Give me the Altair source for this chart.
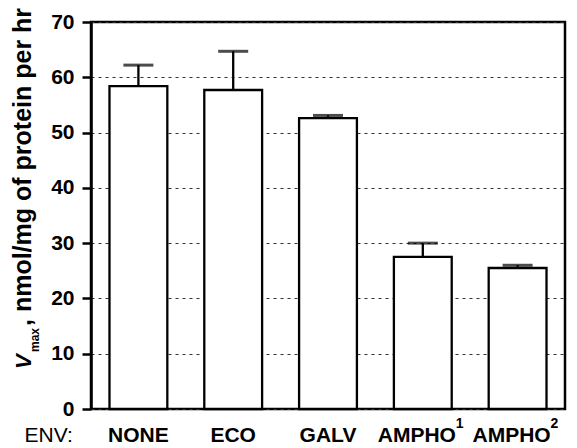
import altair as alt
import pandas as pd

categories = ["NONE", "ECO", "GALV", "AMPHO\u00b9", "AMPHO\u00b2"]
means = [58.4, 57.7, 52.6, 27.5, 25.5]
upper = [62.2, 64.7, 53.1, 30.0, 26.0]
sup_env = ["AMPHO\u00b9", "AMPHO\u00b2"]
sup_text = ["1", "2"]

df = pd.DataFrame({"env": categories, "vmax": means, "err": upper})
sup_df = pd.DataFrame({"env": sup_env, "s": sup_text})

FONT = "Liberation Sans"

x_enc = alt.X(
    "env:N",
    sort=categories,
    scale=alt.Scale(paddingInner=0.39, paddingOuter=0.195),
    axis=alt.Axis(
        title="ENV:",
        titleFont=FONT,
        titleFontSize=21,
        titleFontWeight="normal",
        titleColor="black",
        titleX=-67,
        titleY=32,
        titleAlign="left",
        titleBaseline="alphabetic",
        labelFont=FONT,
        labelFontSize=21,
        labelFontWeight="bold",
        labelColor="black",
        labelAngle=0,
        labelBaseline="alphabetic",
        labelPadding=32,
        labelExpr="replace(replace(datum.label, '\u00b9', ''), '\u00b2', '')",
        labelOffset={"condition": {"test": "indexof(datum.value, 'AMPHO') >= 0", "value": -6}, "value": 0},
        ticks=False,
        tickSize=0,
        domain=False,
        grid=False,
    ),
)

y_scale = alt.Scale(domain=[0, 70], nice=False)
y_axis = alt.Axis(
    title=None,
    values=[0, 10, 20, 30, 40, 50, 60, 70],
    labelFont=FONT,
    labelFontSize=21,
    labelFontWeight="bold",
    labelColor="black",
    labelPadding=8,
    tickSize=9,
    tickWidth=2.5,
    tickColor="black",
    domainColor="black",
    domainWidth=2.5,
    grid=True,
    gridDash=[3, 4],
    gridColor="#333333",
    gridWidth=1.1,
)

base = alt.Chart(df)

bars = base.mark_bar(fill="white", stroke="black", strokeWidth=2.3).encode(
    x=x_enc,
    y=alt.Y("vmax:Q", scale=y_scale, axis=y_axis),
)

rules = base.mark_rule(color="black", strokeWidth=2.3).encode(
    x=alt.X("env:N", sort=categories),
    y="vmax:Q",
    y2="err:Q",
)

caps = base.mark_tick(color="black", orient="horizontal", size=30, thickness=3).encode(
    x=alt.X("env:N", sort=categories),
    y="err:Q",
)

sups = alt.Chart(sup_df).mark_text(
    font=FONT, fontSize=14, fontWeight="bold", align="left", baseline="alphabetic",
    color="black", dx=33,
).encode(x=alt.X("env:N", sort=categories), text="s:N", y=alt.value(406))

t_v = alt.Chart(pd.DataFrame({"t": ["V"]})).mark_text(
    font=FONT, fontSize=22, fontWeight="bold", fontStyle="italic", angle=270,
    align="left", baseline="alphabetic", color="black",
).encode(text="t:N", x=alt.value(-60), y=alt.value(347))

t_max = alt.Chart(pd.DataFrame({"t": ["max"]})).mark_text(
    font=FONT, fontSize=12, fontWeight="bold", angle=270,
    align="left", baseline="alphabetic", color="black",
).encode(text="t:N", x=alt.value(-52), y=alt.value(330))

t_rest = alt.Chart(pd.DataFrame({"t": [", nmol/mg of protein per hr"]})).mark_text(
    font=FONT, fontSize=25, fontWeight="bold", angle=270,
    align="left", baseline="alphabetic", color="black",
).encode(text="t:N", x=alt.value(-60), y=alt.value(304))

chart = alt.layer(bars, rules, caps, sups, t_v, t_max, t_rest).properties(
    width=474,
    height=387,
    autosize=alt.AutoSizeParams(type="none"),
    padding={"left": 83, "top": 14, "right": 4, "bottom": 37},
    background="white",
).configure_view(stroke="black", strokeWidth=2.5)

chart.save("out.html", embed_options={"renderer": "svg", "actions": False})
